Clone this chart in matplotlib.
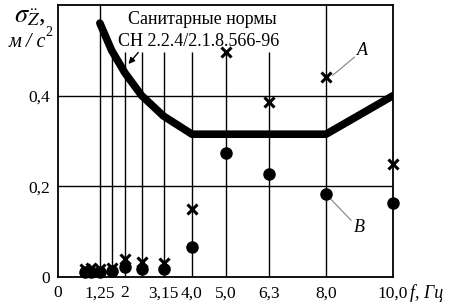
import matplotlib.pyplot as plt

plt.rcParams['font.family'] = ['Liberation Serif', 'DejaVu Serif']
plt.rcParams['mathtext.fontset'] = 'stix'

# sanitary norm CH 2.2.4/2.1.8.566-96
norm_f = [1.25, 1.6, 2.0, 2.5, 3.15, 4.0, 5.0, 6.3, 8.0, 10.0]
norm_a = [0.56, 0.50, 0.45, 0.40, 0.355, 0.315, 0.315, 0.315, 0.315, 0.40]

# measured, series A (crosses) and B (dots)
freq = [0.8, 1.0, 1.25, 1.6, 2.0, 2.5, 3.15, 4.0, 5.0, 6.3, 8.0, 10.0]
a_vals = [0.018, 0.020, 0.017, 0.020, 0.040, 0.033, 0.030, 0.150, 0.497, 0.385, 0.441, 0.250]
b_vals = [0.011, 0.012, 0.012, 0.014, 0.022, 0.018, 0.017, 0.066, 0.273, 0.227, 0.183, 0.164]

xticks = [0, 1.25, 2, 3.15, 4, 5, 6.3, 8, 10]
xlabels = ['0', '1,25', '2', '3,15', '4,0', '5,0', '6,3', '8,0', '10,0']
yticks = [0, 0.2, 0.4]
ylabels = ['0', '0,2', '0,4']

fig = plt.figure(figsize=(4.51, 3.08), dpi=100)
ax = fig.add_axes([0.1286, 0.1006, 0.7428, 0.8832])
ax.set_xlim(0, 10)
ax.set_ylim(0, 0.6)

# grid
for y in [0.2, 0.4]:
    ax.axhline(y, color='black', lw=1.0, zorder=1)
for f in [1.25, 8.0]:
    ax.axvline(f, color='black', lw=1.0, zorder=1)
ax.vlines([1.6, 2.0, 2.5, 3.15, 4.0, 5.0, 6.3], 0, 0.497, color='black', lw=1.0, zorder=1)

ax.plot(norm_f, norm_a, color='black', lw=5.5, solid_capstyle='round', solid_joinstyle='round', zorder=3)
ax.plot(freq, b_vals, 'o', color='black', ms=8, zorder=4, clip_on=False)
ax.plot(freq, a_vals, 'x', color='black', ms=6.5, mew=2.2, zorder=5, clip_on=False)

ax.text(4.3, 0.567, 'Санитарные нормы', ha='center', va='center', fontsize=13)
ax.text(4.2, 0.52, 'СН 2.2.4/2.1.8.566-96', ha='center', va='center', fontsize=13)
ax.annotate('', xy=(2.05, 0.465), xytext=(2.45, 0.5),
            arrowprops=dict(arrowstyle='-|>', color='black', lw=1.0, mutation_scale=9))

ax.plot([8.2, 8.85], [0.445, 0.485], color='gray', lw=0.8)
ax.text(9.1, 0.50, 'A', style='italic', fontsize=13, ha='center', va='center')
ax.plot([8.1, 8.75], [0.175, 0.125], color='gray', lw=0.8)
ax.text(9.0, 0.11, 'B', style='italic', fontsize=13, ha='center', va='center')

ax.set_xticks(xticks)
ax.set_xticklabels(xlabels)
ax.set_yticks(yticks)
ax.set_yticklabels(ylabels)
ax.tick_params(length=0, labelsize=12.5, pad=6)
for s in ax.spines.values():
    s.set_linewidth(1.3)

fig.text(0.945, 0.048, 'f, Гц', style='italic', fontsize=13, ha='center', va='center')
fig.text(0.065, 0.945, r'$\sigma_{\ddot{Z}}$,', fontsize=19, ha='center', va='center')
fig.text(0.06, 0.862, 'м / с', style='italic', fontsize=14.5, ha='center', va='center')
fig.text(0.109, 0.893, '2', fontsize=10, ha='center', va='center')

fig.savefig('out.png', dpi=100)
